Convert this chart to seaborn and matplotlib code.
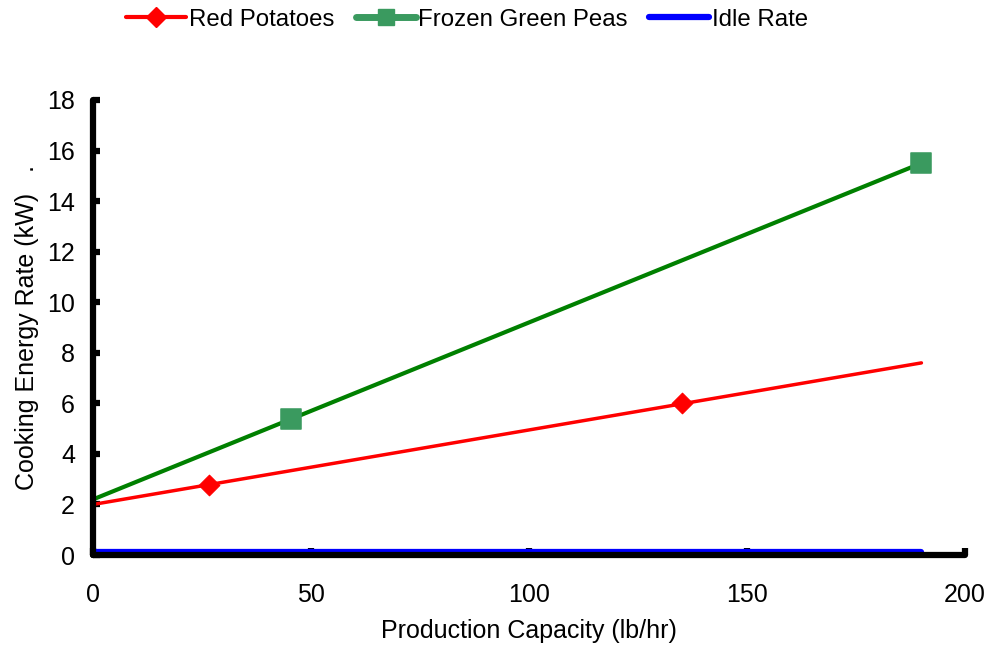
import pandas as pd
import seaborn as sns
import matplotlib.pyplot as plt
from matplotlib.lines import Line2D

# measured points
potato_x = [26.5, 135]
potato_y = [2.78, 6.0]
peas_x = [45.5, 190]
peas_y = [5.4, 15.5]

# trend lines
potato_line_x = [0, 190]
potato_line_y = [2.0, 7.6]
peas_line_x = [0, 190]
peas_line_y = [2.2, 15.5]
idle_x = [0, 190]
idle_y = [0.1, 0.1]

x_ticks = [0, 50, 100, 150, 200]
y_ticks = [0, 2, 4, 6, 8, 10, 12, 14, 16, 18]

sns.set_style("ticks")
plt.rcParams['font.family'] = ['Liberation Sans', 'DejaVu Sans']
plt.rcParams['text.color'] = 'black'
plt.rcParams['axes.labelcolor'] = 'black'
plt.rcParams['xtick.color'] = 'black'
plt.rcParams['ytick.color'] = 'black'

fig = plt.figure(figsize=(9.96, 6.45), dpi=100)
ax = fig.add_axes([0.0934, 0.1395, 0.8755, 0.7055])

sns.lineplot(x=peas_line_x, y=peas_line_y, color='green', linewidth=3, ax=ax)
sns.lineplot(x=potato_line_x, y=potato_line_y, color='red', linewidth=2.5, ax=ax)
sns.lineplot(x=idle_x, y=idle_y, color='blue', linewidth=4.5, ax=ax)
sns.scatterplot(x=potato_x, y=potato_y, marker='D', s=110, color='red',
                edgecolor='red', ax=ax, zorder=5)
sns.scatterplot(x=peas_x, y=peas_y, marker='s', s=200, color='#3a9a5f',
                edgecolor='#3a9a5f', ax=ax, zorder=5)

ax.set_xlim(0, 200)
ax.set_ylim(0, 18)
ax.set_xticks(x_ticks)
ax.set_yticks(y_ticks)
ax.tick_params(axis='both', direction='in', length=5, width=4.5, labelsize=18,
               colors='black')
ax.tick_params(axis='x', pad=20)
ax.tick_params(axis='y', pad=13)
for t in ax.xaxis.get_ticklines() + ax.yaxis.get_ticklines():
    t.set_solid_capstyle('round')
for s in ['top', 'right']:
    ax.spines[s].set_visible(False)
for s in ['left', 'bottom']:
    ax.spines[s].set_linewidth(4.5)
    ax.spines[s].set_color('black')
    ax.spines[s].set_capstyle('round')

ax.set_xlabel("Production Capacity (lb/hr)", fontsize=18, labelpad=9)
ax.set_ylabel("Cooking Energy Rate (kW)   .", fontsize=18, labelpad=6)

handles = [
    Line2D([], [], color='red', lw=3, marker='D', markersize=10),
    Line2D([], [], color='#3a9a5f', lw=5, marker='s', markersize=11),
    Line2D([], [], color='blue', lw=4.5),
]
fig.legend(handles, ["Red Potatoes", "Frozen Green Peas", "Idle Rate"],
           loc='upper center', bbox_to_anchor=(0.469, 1.02), ncol=3,
           frameon=False, fontsize=17.3, handlelength=2.5, handletextpad=0.1,
           columnspacing=0.9)

fig.savefig("out.png", dpi=100)
